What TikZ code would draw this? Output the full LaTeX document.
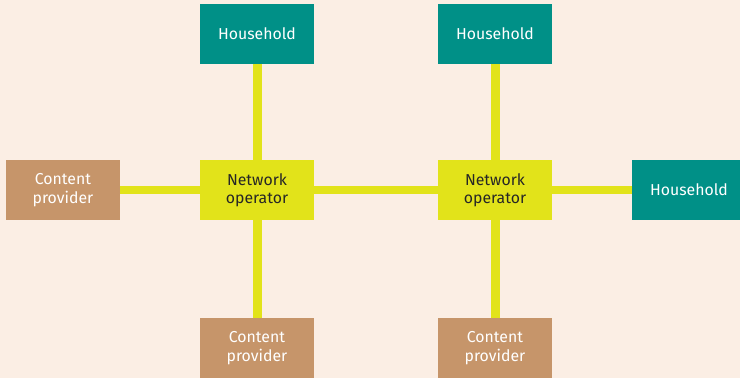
\documentclass[tikz,border=0pt]{standalone}
\usepackage{fontspec}
\setmainfont{Fira Sans}
\usetikzlibrary{arrows}

\definecolor{bgcream}{HTML}{FBEEE4}
\definecolor{hhteal}{HTML}{009087}
\definecolor{cpbrown}{HTML}{C6956A}
\definecolor{nolime}{HTML}{E2E31A}

\begin{document}
\begin{tikzpicture}
  [x=0.02cm,y=-0.02cm,every node/.style={rectangle,minimum width=2.28cm,minimum height=1.2cm,
   align=center,font=\fontsize{9}{10.5}\selectfont,inner sep=0pt},
   house/.style={fill=hhteal,text=white},
   content/.style={fill=cpbrown,text=white},
   netop/.style={fill=nolime,text=black!85}]
  \fill[bgcream] (0,0) rectangle (740,378);
  \useasboundingbox (0,0) rectangle (740,378);
  \node[house] (h1) at (257,34)  {Household};
  \node[house] (h2) at (495,34)  {Household};
  \node[house] (h3) at (689,190) {Household};
  \node[content] (c1) at (63,190)  {Content\\provider};
  \node[content] (c2) at (257,348) {Content\\provider};
  \node[content] (c3) at (495,348) {Content\\provider};
  \node[netop] (n1) at (257,190) {Network\\operator};
  \node[netop] (n2) at (495,190) {Network\\operator};

\foreach \from/\to in
{c1/n1, n1/n2, n2/h3, h1/n1, n1/c2, h2/n2, n2/c3}
    \draw[nolime,line width=0.18cm] (\from) -- (\to);
\end{tikzpicture}
\end{document}
